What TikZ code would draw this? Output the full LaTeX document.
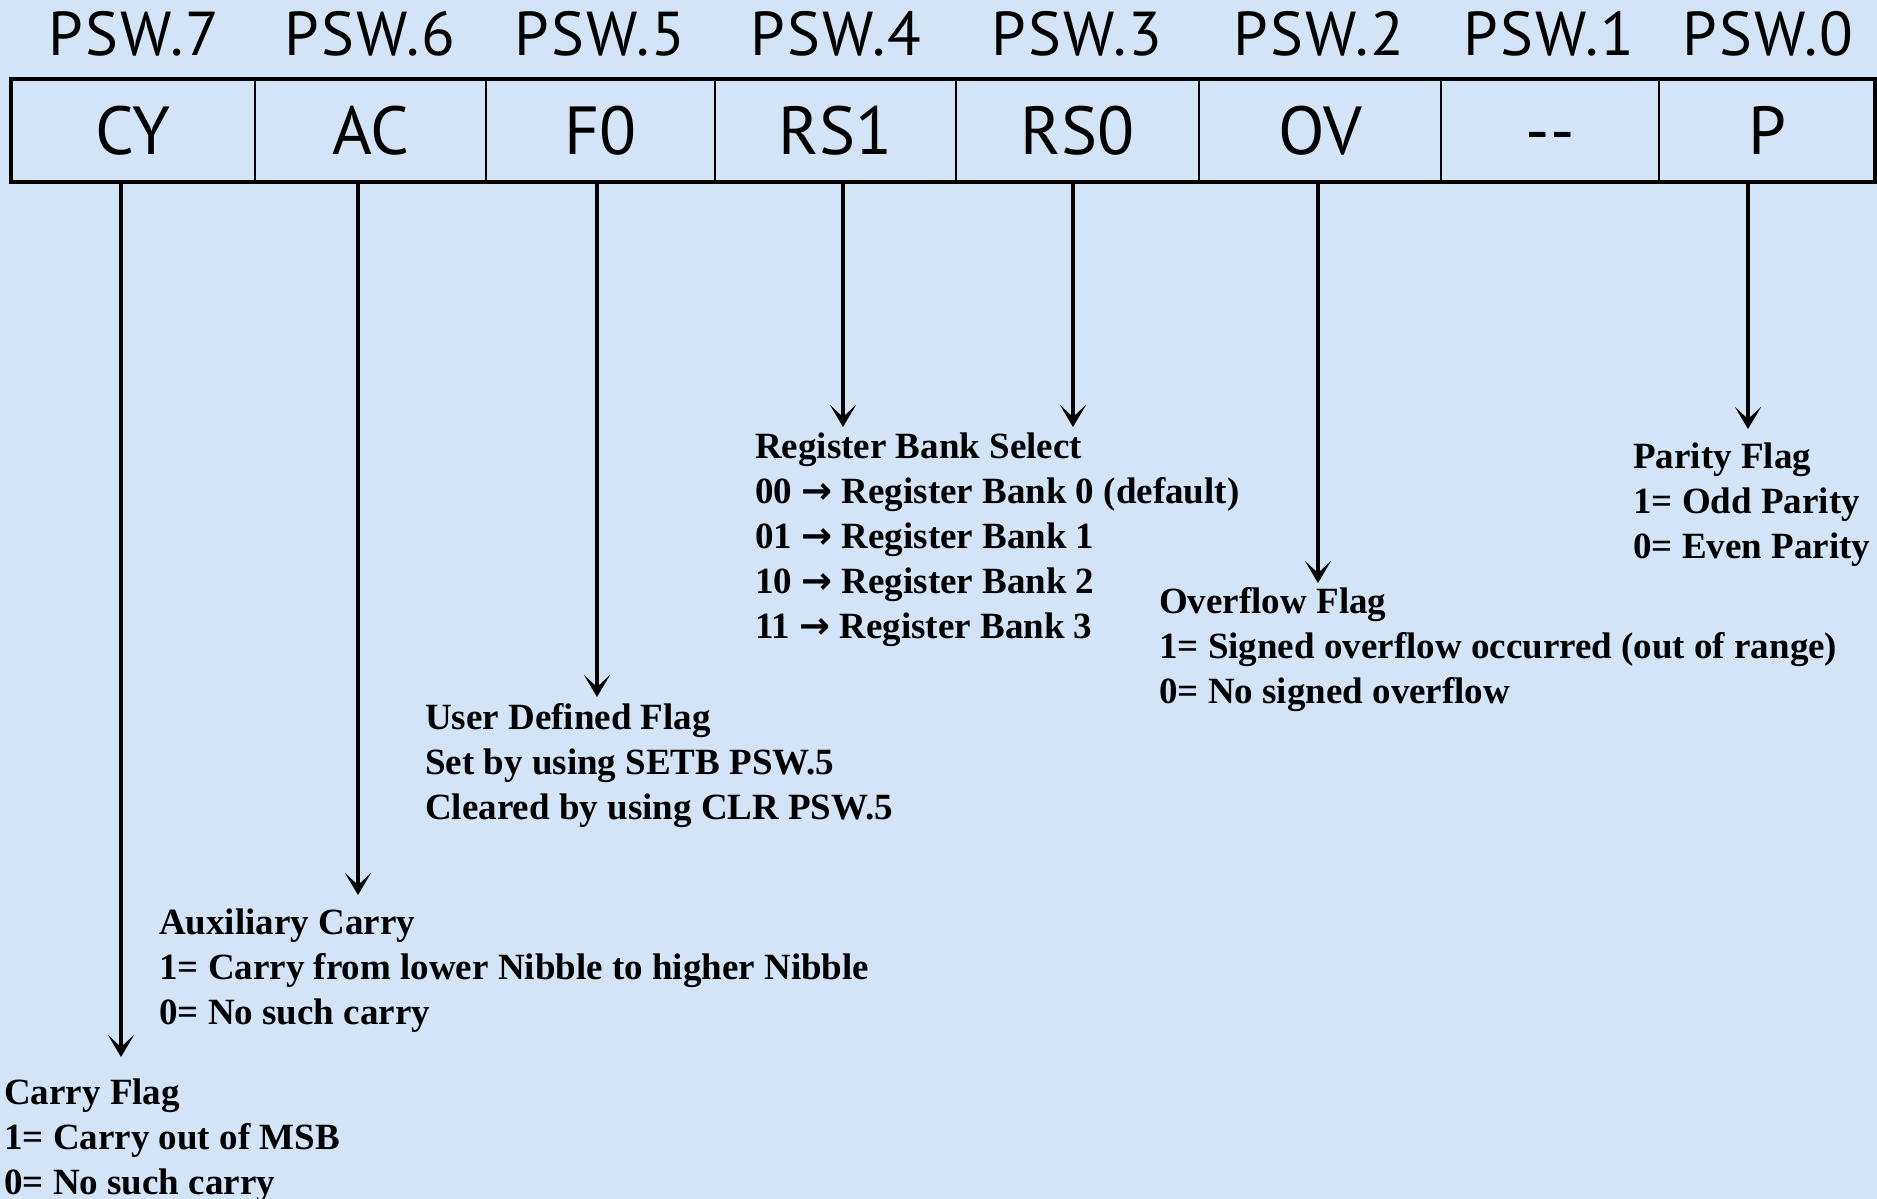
\documentclass[tikz,border=0pt]{standalone}
\usepackage{fontspec}
\setmainfont{Liberation Serif}
\newfontfamily\cellfont{PT Sans}
\newfontfamily\hdrfont[LetterSpace=4]{PT Sans}
\newfontfamily\arrfont{DejaVu Sans}
\usetikzlibrary{arrows.meta}
\definecolor{bgblue}{RGB}{210,228,245}
\newcommand{\rarr}{{\arrfont\bfseries →}}
\begin{document}
\begin{tikzpicture}[x=1pt,y=-1pt,
  cell/.style={draw, line width=2.5pt, minimum height=103pt, inner sep=0pt, outer sep=0pt,
    text height=48pt, text depth=0pt, font=\cellfont\fontsize{68}{80}\selectfont},
  hdr/.style={anchor=base, inner sep=0pt, font=\hdrfont\fontsize{62}{70}\selectfont},
  desc/.style={anchor=north west, inner sep=0pt, align=left, font=\bfseries\fontsize{37}{45}\selectfont},
  flag/.style={line width=4.5pt, -{Stealth[length=22pt,width=26pt,inset=12pt]}}
]
\useasboundingbox (0,0) rectangle (1877,1199);
\fill[bgblue] (0,0) rectangle (1877,1199);

% register cells
\node[cell, minimum width=244pt] (c7) at (133,130.5) {CY};
\node[cell, minimum width=231pt] (c6) at (370.5,130.5) {AC};
\node[cell, minimum width=229pt] (c5) at (600.5,130.5) {F0};
\node[cell, minimum width=241pt] (c4) at (835.5,130.5) {RS1};
\node[cell, minimum width=243pt] (c3) at (1077.5,130.5) {RS0};
\node[cell, minimum width=242pt] (c2) at (1320,130.5) {OV};
\node[cell, minimum width=218pt] (c1) at (1550,130.5) {--};
\node[cell, minimum width=216pt] (c0) at (1767,130.5) {P};
\draw[line width=4.5pt] (c7.north west) rectangle (c0.south east);

% bit labels
\node[hdr] (h7) at (134,56) {PSW.7};
\node[hdr] (h6) at (370,56) {PSW.6};
\node[hdr] (h5) at (600,56) {PSW.5};
\node[hdr] (h4) at (836,56) {PSW.4};
\node[hdr] (h3) at (1077,56) {PSW.3};
\node[hdr] (h2) at (1319,56) {PSW.2};
\node[hdr] (h1) at (1549,56) {PSW.1};
\node[hdr] (h0) at (1768,56) {PSW.0};

% descriptions
\node[desc] (d7) at (4,1079) {Carry Flag\\1= Carry out of MSB\\0= No such carry};
\node[desc] (d6) at (159,909) {Auxiliary Carry\\1= Carry from lower Nibble to higher Nibble\\0= No such carry};
\node[desc] (d5) at (425,703) {User Defined Flag\\Set by using SETB PSW.5\\Cleared by using CLR PSW.5};
\node[desc] (d34) at (755,433) {Register Bank Select\\00 \rarr{} Register Bank 0 (default)\\01 \rarr{} Register Bank 1\\10 \rarr{} Register Bank 2\\11 \rarr{} Register Bank 3};
\node[desc] (d2) at (1159,587) {Overflow Flag\\1= Signed overflow occurred (out of range)\\0= No signed overflow};
\node[desc] (d0) at (1633,443) {Parity Flag\\1= Odd Parity\\0= Even Parity};

% arrow tips
\coordinate (t7) at (121,1057);
\coordinate (t6) at (358,895);
\coordinate (t5) at (597,697);
\coordinate (t4) at (843,427);
\coordinate (t3) at (1073,427);
\coordinate (t2) at (1318,583);
\coordinate (t0) at (1748,429);

\draw[flag] (c7.south -| t7) -- (t7);
\draw[flag] (c6.south -| t6) -- (t6);
\draw[flag] (c5.south -| t5) -- (t5);
\draw[flag] (c4.south -| t4) -- (t4);
\draw[flag] (c3.south -| t3) -- (t3);
\draw[flag] (c2.south -| t2) -- (t2);
\draw[flag] (c0.south -| t0) -- (t0);
\end{tikzpicture}
\end{document}
